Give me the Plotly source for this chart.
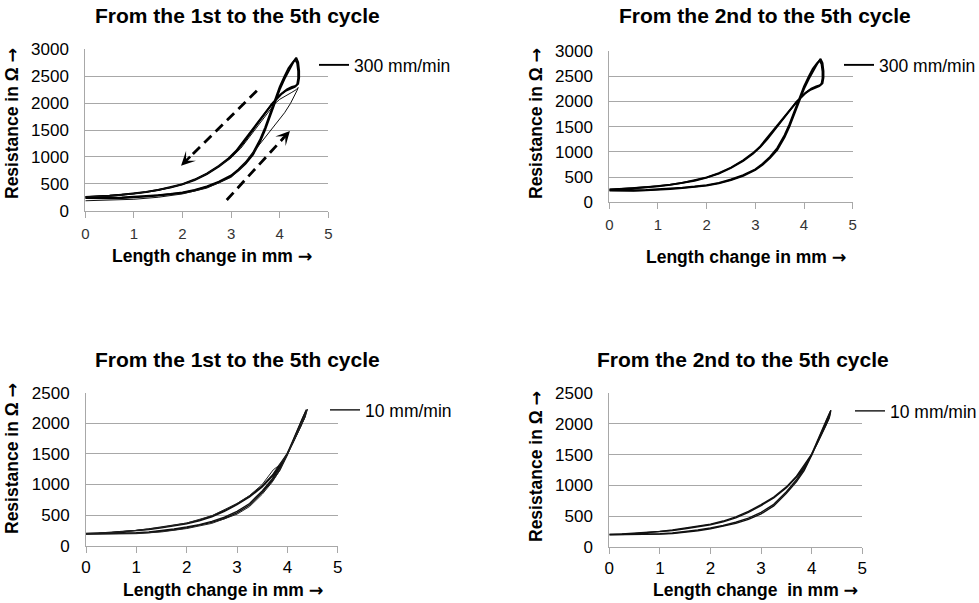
import plotly.graph_objects as go

# ---------------- data ----------------
# 300 mm/min, cycles 2-5 (two representative loops)
F300_C2_X = [0.00, 0.25, 0.50, 0.75, 1.00, 1.25, 1.50, 1.75, 2.00, 2.25, 2.50, 2.75, 3.00, 3.15, 3.30, 3.45, 3.60, 3.70, 3.80, 3.90, 4.00, 4.10, 4.20, 4.28, 4.34,
             4.38, 4.40, 4.40, 4.38, 4.33,
             4.25, 4.15, 4.05, 3.95, 3.85, 3.70, 3.55, 3.40, 3.25, 3.10, 2.95, 2.75, 2.50, 2.25, 2.00, 1.75, 1.50, 1.25, 1.00, 0.75, 0.50, 0.25, 0.00]
F300_C2_Y = [235, 230, 230, 236, 245, 262, 282, 305, 330, 375, 440, 525, 640, 745, 875, 1040, 1290, 1500, 1760, 2020, 2250, 2450, 2630, 2760, 2845,
             2760, 2600, 2470, 2360, 2320,
             2300, 2255, 2185, 2090, 1990, 1820, 1640, 1450, 1270, 1110, 975, 835, 690, 580, 495, 435, 385, 350, 320, 297, 278, 265, 255]
F300_C5_X = [0.00, 0.25, 0.50, 0.75, 1.00, 1.25, 1.50, 1.75, 2.00, 2.25, 2.50, 2.75, 3.00, 3.15, 3.30, 3.45, 3.60, 3.70, 3.80, 3.90, 4.00, 4.10, 4.18, 4.26, 4.32,
             4.36, 4.38, 4.38, 4.36, 4.31,
             4.22, 4.12, 4.02, 3.93, 3.84, 3.70, 3.55, 3.40, 3.25, 3.10, 2.95, 2.75, 2.50, 2.25, 2.00, 1.75, 1.50, 1.25, 1.00, 0.75, 0.50, 0.25, 0.00]
F300_C5_Y = [245, 238, 238, 244, 255, 270, 290, 312, 340, 385, 452, 540, 655, 765, 900, 1075, 1330, 1545, 1800, 2060, 2300, 2500, 2650, 2750, 2810,
             2740, 2590, 2460, 2350, 2300,
             2270, 2225, 2160, 2075, 1985, 1810, 1625, 1435, 1255, 1095, 960, 820, 680, 570, 488, 428, 380, 345, 318, 295, 277, 263, 252]
# 300 mm/min, cycle 1
F300_C1_X = [0.00, 0.50, 1.00, 1.50, 2.00, 2.50, 3.00, 3.20, 3.35, 3.50, 3.65, 3.80, 3.95, 4.10, 4.22, 4.31, 4.36, 4.38, 4.34, 4.25, 4.12, 4.00, 3.90,
             3.80, 3.65, 3.50, 3.35, 3.20, 3.00, 2.75, 2.50, 2.25, 2.00, 1.50, 1.00, 0.50, 0.00]
F300_C1_Y = [185, 192, 212, 250, 312, 420, 620, 790, 960, 1140, 1300, 1460, 1630, 1820, 1990, 2140, 2240, 2290, 2250, 2200, 2140, 2070, 1990,
             1870, 1680, 1500, 1320, 1160, 980, 830, 685, 575, 490, 380, 315, 275, 255]

# 10 mm/min, cycles 2-5
F10_C2_X = [0.00, 0.25, 0.50, 0.75, 1.00, 1.25, 1.50, 1.75, 2.00, 2.25, 2.50, 2.75, 3.00, 3.25, 3.50, 3.70, 3.85, 4.00, 4.10, 4.20, 4.30, 4.38,
            4.35, 4.28, 4.20, 4.10, 4.00, 3.85, 3.70, 3.50, 3.25, 3.00, 2.75, 2.50, 2.25, 2.00, 1.75, 1.50, 1.25, 1.00, 0.75, 0.50, 0.25, 0.00]
F10_C2_Y = [195, 195, 197, 200, 205, 215, 235, 260, 292, 330, 380, 445, 535, 665, 870, 1060, 1240, 1490, 1680, 1880, 2060, 2225,
            2110, 1980, 1840, 1670, 1510, 1320, 1150, 975, 810, 685, 575, 485, 418, 368, 332, 300, 272, 250, 232, 217, 206, 198]
F10_C5_X = [0.00, 0.25, 0.50, 0.75, 1.00, 1.25, 1.50, 1.75, 2.00, 2.25, 2.50, 2.75, 3.00, 3.25, 3.50, 3.70, 3.85, 4.00, 4.10, 4.20, 4.30, 4.37,
            4.34, 4.27, 4.19, 4.09, 4.00, 3.85, 3.70, 3.50, 3.25, 3.00, 2.75, 2.50, 2.25, 2.00, 1.75, 1.50, 1.25, 1.00, 0.75, 0.50, 0.25, 0.00]
F10_C5_Y = [200, 200, 202, 206, 212, 224, 245, 272, 305, 345, 398, 465, 560, 690, 895, 1090, 1270, 1510, 1700, 1900, 2080, 2205,
            2090, 1960, 1820, 1650, 1500, 1305, 1135, 960, 795, 670, 560, 470, 405, 357, 322, 292, 265, 244, 227, 213, 203, 196]
# 10 mm/min, cycle 1
F10_C1_X = [0.00, 0.50, 1.00, 1.50, 2.00, 2.50, 3.00, 3.25, 3.50, 3.70, 3.85, 4.00, 4.10, 4.20, 4.30, 4.40,
            4.36, 4.30, 4.20, 4.10, 4.00, 3.90, 3.80, 3.72, 3.65, 3.50, 3.25, 3.00, 2.50, 2.00, 1.50, 1.00, 0.50, 0.00]
F10_C1_Y = [185, 188, 196, 225, 280, 365, 515, 640, 840, 1040, 1230, 1480, 1660, 1860, 2050, 2230,
            2120, 2000, 1830, 1660, 1500, 1380, 1290, 1240, 1160, 1000, 820, 690, 490, 370, 300, 250, 215, 200]

# dashed direction arrows (top-left panel): [start, tip]
ARROW_UNLOAD_X = [3.53, 1.97]
ARROW_UNLOAD_Y = [2231, 837]
ARROW_LOAD_X = [2.91, 4.21]
ARROW_LOAD_Y = [199, 1482]

TITLES = ["From the 1st to the 5th cycle", "From the 2nd to the 5th cycle",
          "From the 1st to the 5th cycle", "From the 2nd to the 5th cycle"]
X_TITLES = ["Length change in mm", "Length change in mm",
            "Length change in mm", "Length change\u00a0 in mm"]
Y_TITLE = "Resistance in Ω"
ARROW_CHAR = "→"
SPEED_LABELS = ["300 mm/min", "300 mm/min", "10 mm/min", "10 mm/min"]
X_TICKS = [0, 1, 2, 3, 4, 5]
Y_TICKS_300 = [0, 500, 1000, 1500, 2000, 2500, 3000]
Y_TICKS_10 = [0, 500, 1000, 1500, 2000, 2500]

# ---------------- layout helpers ----------------
W, H = 979, 603
def px(p):
    return p / W
def py(p):
    return 1 - p / H

FONT = "Arial, 'Liberation Sans', sans-serif"
GRID = "#a8a8a8"

# panel boxes in pixels: (left, right, top, bottom)
PANELS = [(85.3, 328.3, 49.3, 210.7),
          (609.3, 852.7, 51.0, 202.3),
          (86.0, 337.7, 392.7, 545.7),
          (609.3, 862.3, 393.3, 546.7)]

fig = go.Figure()

def add_loop(xs, ys, k, width, color, legend_name=None):
    ax = "" if k == 1 else str(k)
    fig.add_trace(go.Scatter(
        x=xs, y=ys, mode="lines", xaxis="x" + ax, yaxis="y" + ax,
        line=dict(color=color, width=width),
        name=legend_name if legend_name else "",
        showlegend=legend_name is not None,
        legend="legend" + ax, hoverinfo="skip"))

# top-left: cycles 1-5 @300
add_loop(F300_C2_X, F300_C2_Y, 1, 1.9, "#000000", SPEED_LABELS[0])
add_loop(F300_C5_X, F300_C5_Y, 1, 1.9, "#000000")
add_loop(F300_C1_X, F300_C1_Y, 1, 1.0, "#111111")
# top-right: cycles 2-5 @300
add_loop(F300_C2_X, F300_C2_Y, 2, 1.9, "#000000", SPEED_LABELS[1])
add_loop(F300_C5_X, F300_C5_Y, 2, 1.9, "#000000")
# bottom-left: cycles 1-5 @10
add_loop(F10_C2_X, F10_C2_Y, 3, 1.4, "#111111", SPEED_LABELS[2])
add_loop(F10_C5_X, F10_C5_Y, 3, 1.4, "#111111")
add_loop(F10_C1_X, F10_C1_Y, 3, 1.0, "#222222")
# bottom-right: cycles 2-5 @10
add_loop(F10_C2_X, F10_C2_Y, 4, 1.4, "#111111", SPEED_LABELS[3])
add_loop(F10_C5_X, F10_C5_Y, 4, 1.4, "#111111")

# dashed arrows in top-left panel
annotations = []
for ax_, ay_ in [(ARROW_UNLOAD_X, ARROW_UNLOAD_Y), (ARROW_LOAD_X, ARROW_LOAD_Y)]:
    x0, x1 = ax_
    y0, y1 = ay_
    f_end, f_tail = 0.9, 0.86
    fig.add_trace(go.Scatter(
        x=[x0, x0 + f_end * (x1 - x0)], y=[y0, y0 + f_end * (y1 - y0)],
        mode="lines", xaxis="x", yaxis="y", showlegend=False, hoverinfo="skip",
        line=dict(color="#000000", width=2.8, dash="10px,6px")))
    annotations.append(dict(
        x=x1, y=y1, ax=x0 + f_tail * (x1 - x0), ay=y0 + f_tail * (y1 - y0),
        xref="x", yref="y", axref="x", ayref="y", text="", showarrow=True,
        arrowhead=3, arrowsize=0.9, arrowwidth=2.6, arrowcolor="#000000"))

layout = dict(
    width=W, height=H, margin=dict(l=0, r=0, t=0, b=0, autoexpand=False),
    paper_bgcolor="white", plot_bgcolor="white",
    font=dict(family=FONT, color="#000000", size=16),
    showlegend=True,
)

for i, (l, r, t, b) in enumerate(PANELS):
    k = i + 1
    sx = "" if k == 1 else str(k)
    top = i < 2
    layout["xaxis" + sx] = dict(
        domain=[px(l), px(r)], range=[0, 5], anchor="y" + sx,
        tickvals=X_TICKS, ticks="outside", ticklen=6, tickcolor=GRID, tickwidth=1,
        showline=True, linecolor=GRID, linewidth=1, showgrid=False, zeroline=False,
        tickfont=dict(size=15 if top else 17, color="#333333" if top else "#000000", family=FONT),
        ticklabelstandoff=3 if top else 0, fixedrange=True, automargin=False)
    layout["yaxis" + sx] = dict(
        domain=[py(b), py(t)], range=[0, 3000 if top else 2500], anchor="x" + sx,
        tickvals=Y_TICKS_300 if top else Y_TICKS_10, ticks="", showline=True,
        linecolor=GRID, linewidth=1, showgrid=True, gridcolor=GRID, gridwidth=1,
        zeroline=False, tickfont=dict(size=17, color="#000000", family=FONT),
        ticklabelstandoff=12, fixedrange=True, automargin=False)

# legends (one per panel)
LEG_POS = [(314, 65), (839, 65), (325, 410), (850, 411)]
for i, (lx, ly) in enumerate(LEG_POS):
    key = "legend" if i == 0 else "legend" + str(i + 1)
    layout[key] = dict(x=px(lx), y=py(ly), xanchor="left", yanchor="middle",
                       bgcolor="rgba(0,0,0,0)", borderwidth=0,
                       font=dict(size=17.5, family=FONT, color="#000000"))

ARROW_SPAN = "<span style='font-family:DejaVu Sans'>" + ARROW_CHAR + "</span>"

# titles and axis titles
TITLE_POS = [(237, 16), (765, 16), (237, 360), (743, 360)]
XT_POS = [(212, 256), (746, 257), (223, 590), (755, 590)]
YT_POS = [(12, 124), (536, 124), (12, 459), (536, 467)]
for i in range(4):
    annotations.append(dict(text="<b>" + TITLES[i] + "</b>", x=px(TITLE_POS[i][0]), y=py(TITLE_POS[i][1]),
                            xref="paper", yref="paper", showarrow=False, xanchor="center", yanchor="middle",
                            font=dict(size=21, family=FONT, color="#000000")))
    annotations.append(dict(text="<b>" + X_TITLES[i] + " " + ARROW_SPAN + "</b>",
                            x=px(XT_POS[i][0]), y=py(XT_POS[i][1]),
                            xref="paper", yref="paper", showarrow=False, xanchor="center", yanchor="middle",
                            font=dict(size=17.5, family=FONT, color="#000000")))
    annotations.append(dict(text="<b>" + Y_TITLE + " " + ARROW_SPAN + "</b>",
                            x=px(YT_POS[i][0]), y=py(YT_POS[i][1]),
                            xref="paper", yref="paper", showarrow=False, xanchor="center", yanchor="middle",
                            textangle=-90, font=dict(size=17.5, family=FONT, color="#000000")))

layout["annotations"] = annotations
fig.update_layout(**layout)
fig.write_html("out.html", config=dict(displayModeBar=False),
               post_script="document.body.style.margin='0';document.body.style.overflow='hidden';")
